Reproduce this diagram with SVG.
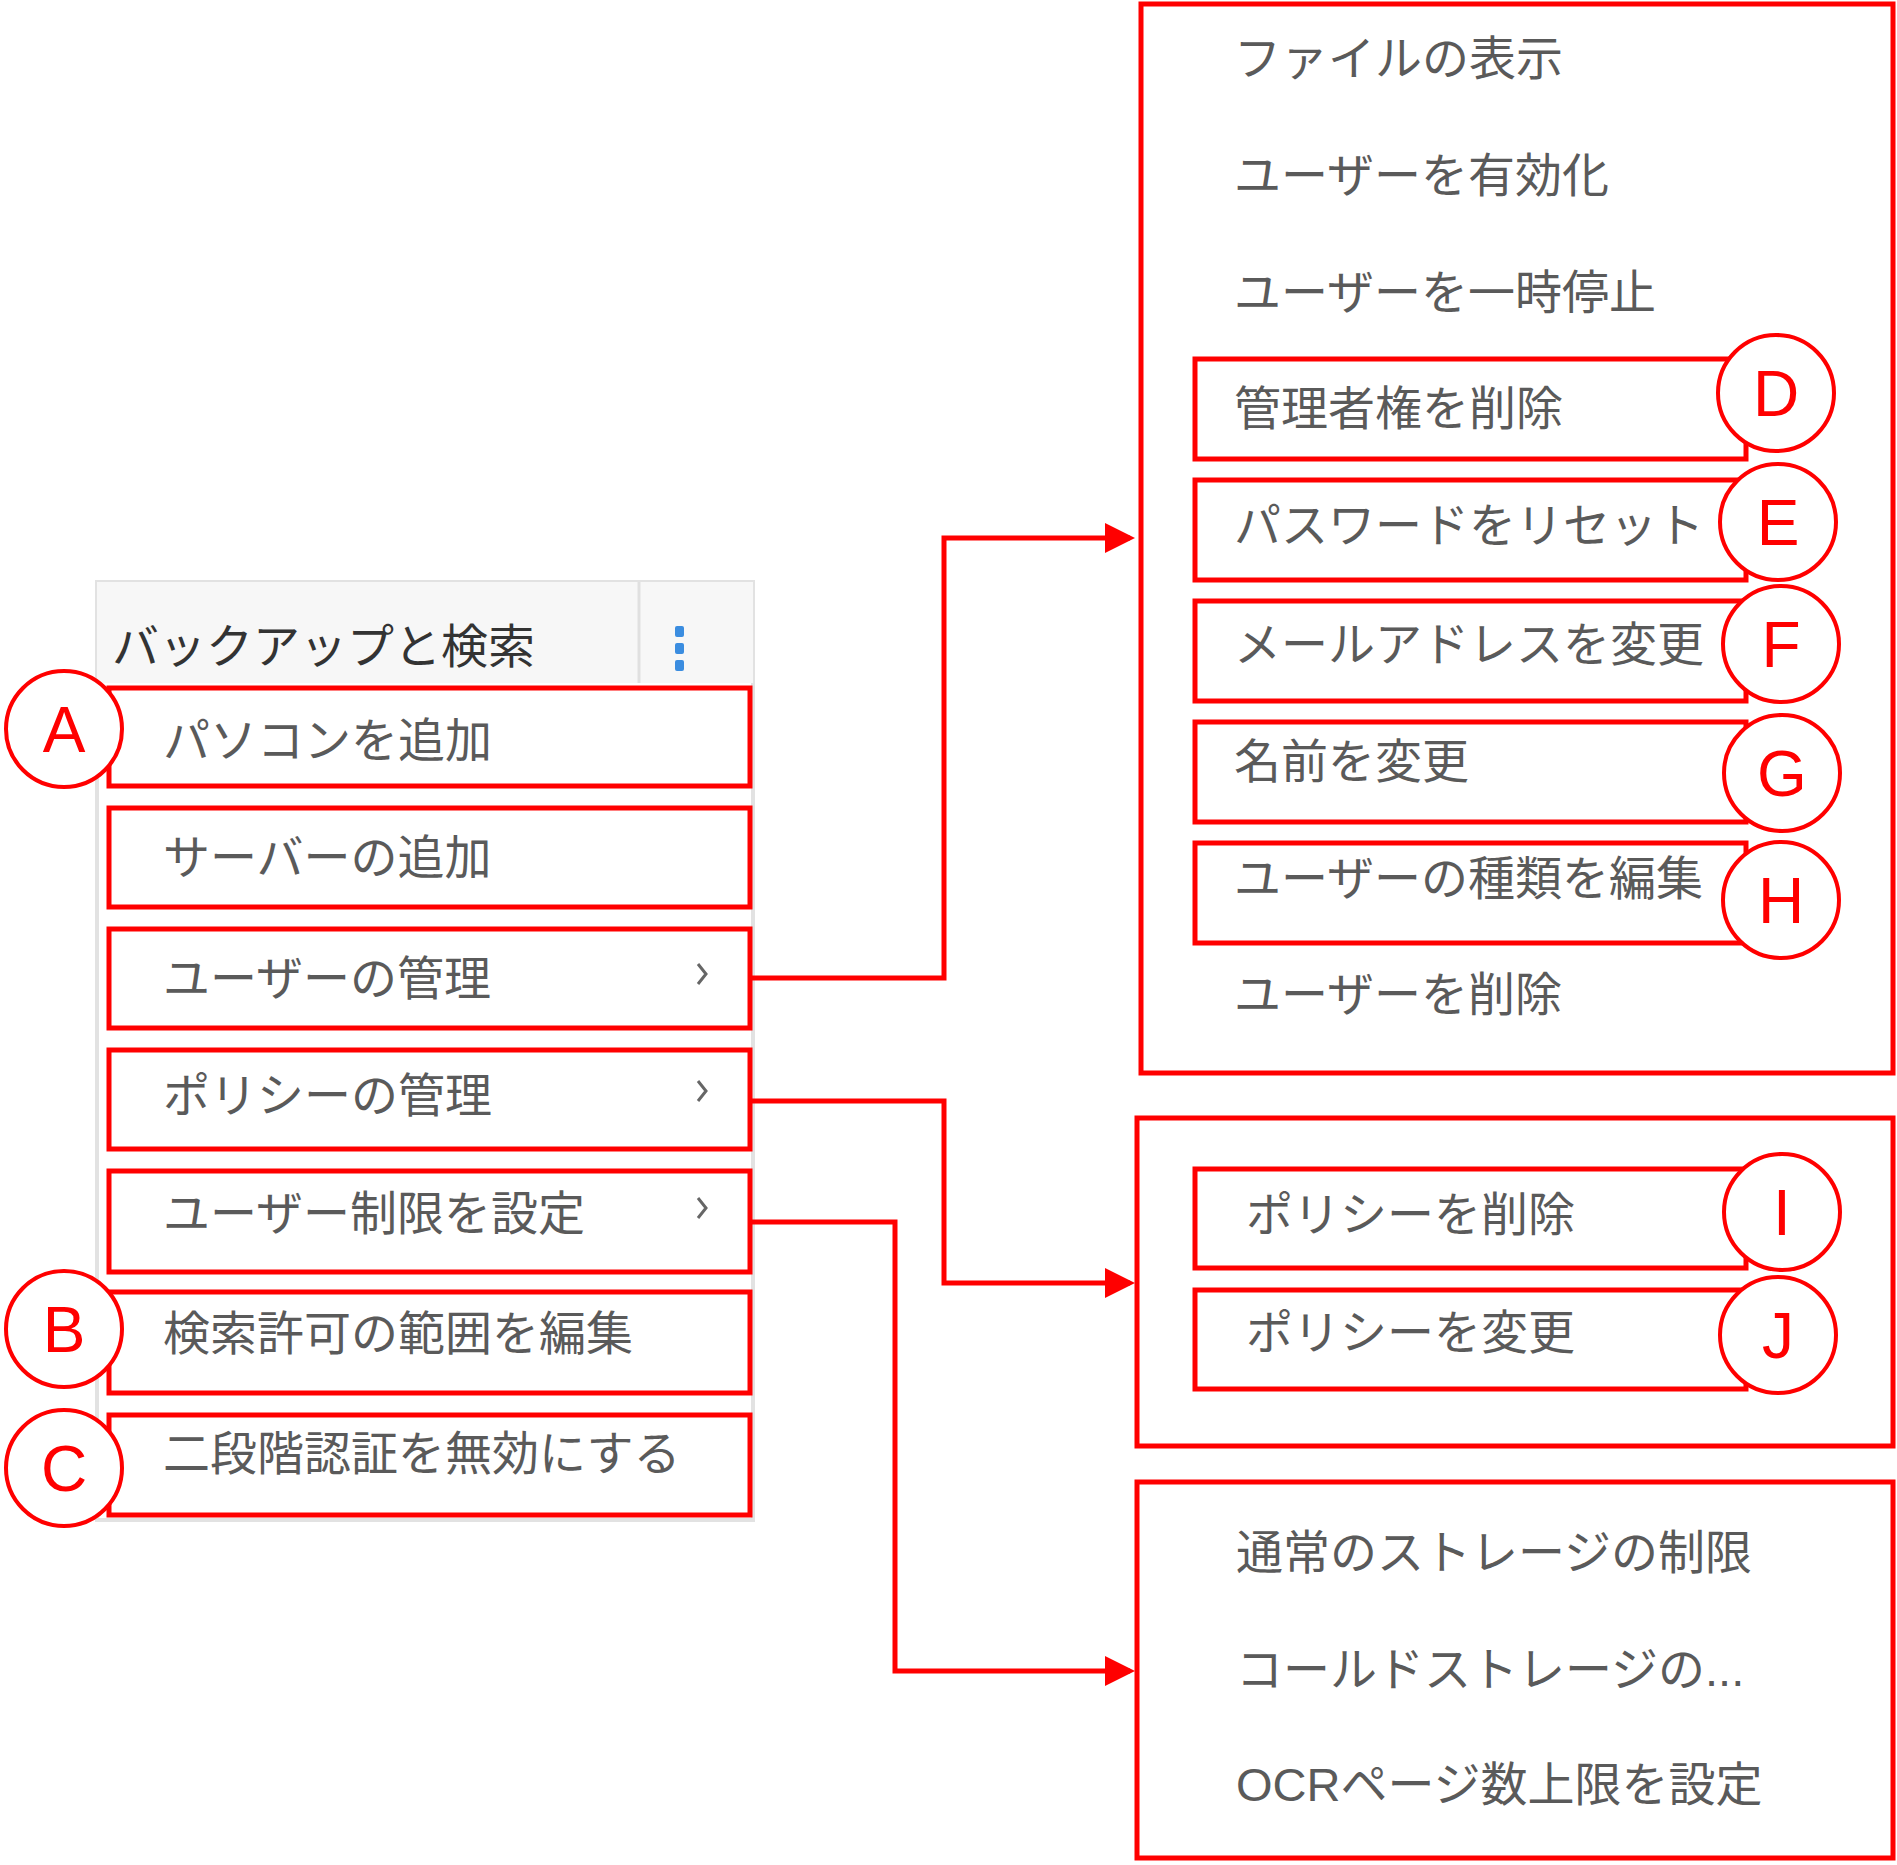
<svg xmlns="http://www.w3.org/2000/svg" width="1897" height="1865" viewBox="0 0 1897 1865">
<style>
.box{fill:none;stroke:#f00;stroke-width:5}
.t{font-family:"Liberation Sans","Noto Sans CJK JP",sans-serif;font-size:47px;fill:#5a5a5a}
.c{fill:#fff;stroke:#f00;stroke-width:4}
.l{font-family:"Liberation Sans",sans-serif;font-size:64px;fill:#f00;text-anchor:middle}
.chev{fill:none;stroke:#666;stroke-width:3}
.conn{fill:none;stroke:#f00;stroke-width:5}
</style>
<defs><marker id="ah" markerWidth="6" markerHeight="6" refX="5" refY="3" orient="auto" markerUnits="strokeWidth"><path d="M0,0 L6,3 L0,6 Z" fill="#f00"/></marker></defs>
<rect width="1897" height="1865" fill="#fff"/>
<g id="menu">
<rect x="97" y="582" width="656" height="938" fill="#fff" stroke="#e2e2e2" stroke-width="4"/>
<rect x="97" y="582" width="656" height="101" fill="#f7f7f7"/>
<line x1="639" y1="582" x2="639" y2="683" stroke="#e0e0e0" stroke-width="3"/>
<text x="112" y="663" class="t" style="fill:#333">バックアップと検索</text>
<rect x="675" y="626" width="9" height="11" rx="2" fill="#3b8de0"/><rect x="675" y="643" width="9" height="11" rx="2" fill="#3b8de0"/><rect x="675" y="660" width="9" height="11" rx="2" fill="#3b8de0"/>
</g>
<g id="connectors">
<path class="conn" d="M750,978 H944 V538 H1130" marker-end="url(#ah)"/>
<path class="conn" d="M750,1101 H944 V1283 H1130" marker-end="url(#ah)"/>
<path class="conn" d="M750,1222 H895 V1671 H1130" marker-end="url(#ah)"/>
</g>
<g id="A"><rect class="box" x="109" y="688" width="641" height="98"/><text class="t" x="163" y="757">パソコンを追加</text><circle class="c" cx="64" cy="729" r="58"/><text class="l" x="64" y="752">A</text></g>
<g id="server"><rect class="box" x="109" y="808" width="641" height="99"/><text class="t" x="163" y="874">サーバーの追加</text></g>
<g id="usermgmt"><rect class="box" x="109" y="929" width="641" height="99"/><text class="t" x="163" y="995">ユーザーの管理</text><path class="chev" d="M698,964 l8,10 l-8,10"/></g>
<g id="policymgmt"><rect class="box" x="109" y="1050" width="641" height="99"/><text class="t" x="163" y="1112">ポリシーの管理</text><path class="chev" d="M698,1081 l8,10 l-8,10"/></g>
<g id="userlimit"><rect class="box" x="109" y="1171" width="641" height="101"/><text class="t" x="163" y="1230">ユーザー制限を設定</text><path class="chev" d="M698,1198 l8,10 l-8,10"/></g>
<g id="B"><rect class="box" x="109" y="1292" width="641" height="101"/><text class="t" x="163" y="1350">検索許可の範囲を編集</text><circle class="c" cx="64" cy="1329" r="58"/><text class="l" x="64" y="1352">B</text></g>
<g id="C"><rect class="box" x="109" y="1415" width="641" height="100"/><text class="t" x="163" y="1470">二段階認証を無効にする</text><circle class="c" cx="64" cy="1468" r="58"/><text class="l" x="64" y="1491">C</text></g>
<g id="usersub">
<rect class="box" x="1141" y="4" width="752" height="1069"/>
<text class="t" x="1234" y="75">ファイルの表示</text>
<text class="t" x="1234" y="192">ユーザーを有効化</text>
<text class="t" x="1234" y="309">ユーザーを一時停止</text>
<text class="t" x="1234" y="1011">ユーザーを削除</text>
</g>
<g id="D"><rect class="box" x="1195" y="359" width="551" height="100"/><text class="t" x="1234" y="425">管理者権を削除</text><circle class="c" cx="1776" cy="393" r="58"/><text class="l" x="1776" y="416">D</text></g>
<g id="E"><rect class="box" x="1195" y="480" width="551" height="100"/><text class="t" x="1234" y="542">パスワードをリセット</text><circle class="c" cx="1778" cy="522" r="58"/><text class="l" x="1778" y="545">E</text></g>
<g id="F"><rect class="box" x="1195" y="601" width="551" height="100"/><text class="t" x="1234" y="661">メールアドレスを変更</text><circle class="c" cx="1781" cy="644" r="58"/><text class="l" x="1781" y="667">F</text></g>
<g id="G"><rect class="box" x="1195" y="722" width="551" height="100"/><text class="t" x="1234" y="778">名前を変更</text><circle class="c" cx="1782" cy="773" r="58"/><text class="l" x="1782" y="796">G</text></g>
<g id="H"><rect class="box" x="1195" y="843" width="551" height="100"/><text class="t" x="1234" y="895">ユーザーの種類を編集</text><circle class="c" cx="1781" cy="900" r="58"/><text class="l" x="1781" y="923">H</text></g>
<g id="policysub"><rect class="box" x="1137" y="1118" width="756" height="328"/></g>
<g id="I"><rect class="box" x="1195" y="1169" width="551" height="99"/><text class="t" x="1246" y="1231">ポリシーを削除</text><circle class="c" cx="1782" cy="1212" r="58"/><text class="l" x="1782" y="1235">I</text></g>
<g id="J"><rect class="box" x="1195" y="1290" width="551" height="99"/><text class="t" x="1246" y="1349">ポリシーを変更</text><circle class="c" cx="1778" cy="1335" r="58"/><text class="l" x="1778" y="1358">J</text></g>
<g id="limitsub">
<rect class="box" x="1137" y="1482" width="756" height="376"/>
<text class="t" x="1236" y="1569">通常のストレージの制限</text>
<text class="t" x="1236" y="1686">コールドストレージの...</text>
<text class="t" x="1236" y="1801">OCRページ数上限を設定</text>
</g>
</svg>
